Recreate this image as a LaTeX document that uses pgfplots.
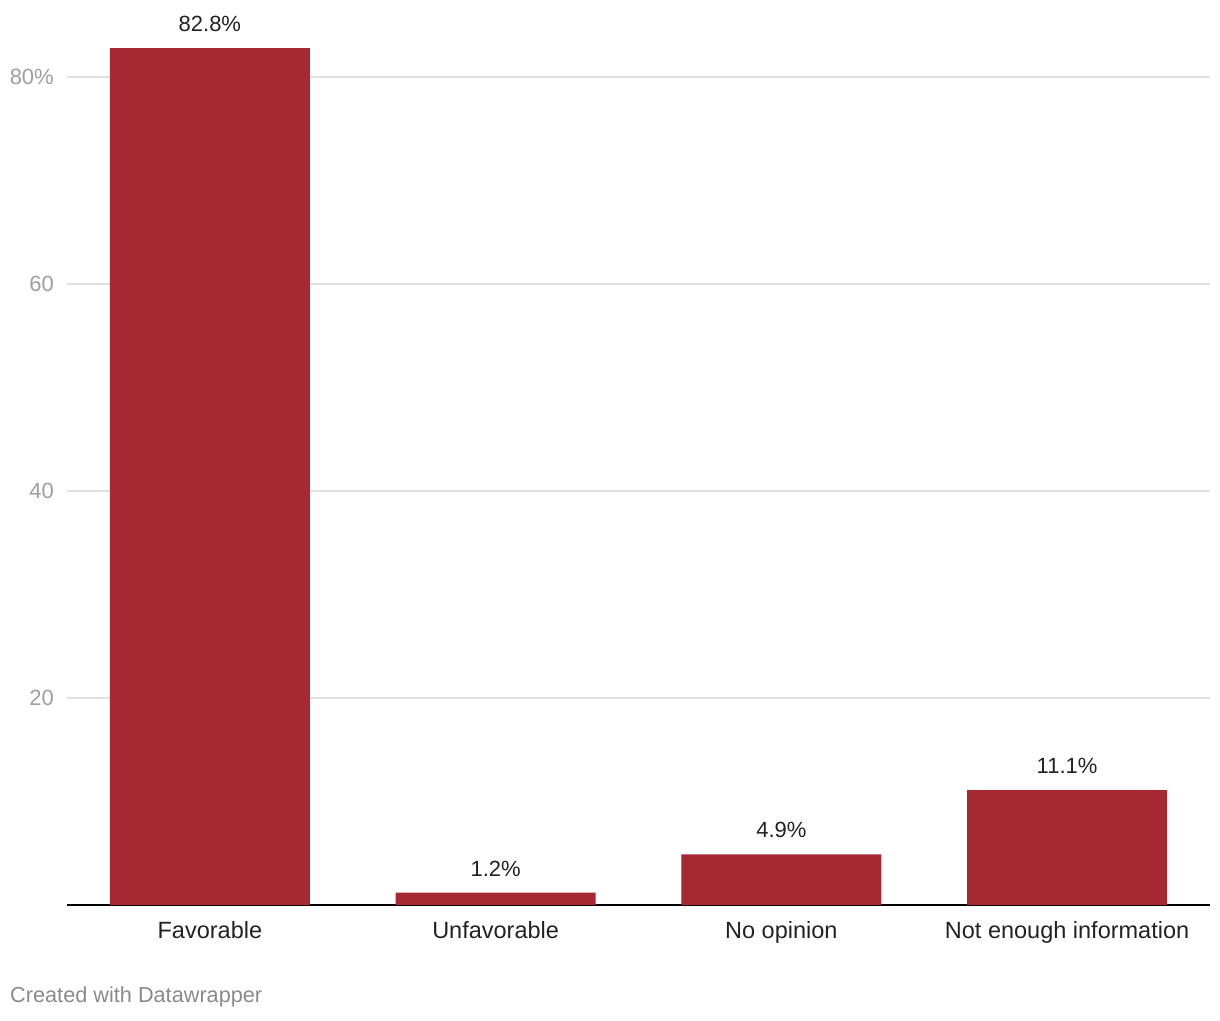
\documentclass[border=0pt]{standalone}
\usepackage{pgfplots}
\pgfplotsset{compat=1.18}
\usepackage{fontspec}
\setmainfont{Liberation Sans}
\definecolor{barred}{HTML}{A62833}
\definecolor{gridgray}{HTML}{E0E0E0}
\definecolor{ticktext}{HTML}{9E9E9E}
\definecolor{credit}{HTML}{8A8A8A}
\definecolor{labeltext}{HTML}{222222}
\begin{document}
\begin{tikzpicture}[x=1pt,y=1pt]
\useasboundingbox (-67,-115) rectangle (1153,905);
\begin{axis}[
  at={(0,0)}, anchor=south west,
  scale only axis,
  width=1143pt, height=879.75pt,
  xmin=-0.5, xmax=3.5,
  ymin=0, ymax=85,
  axis x line*=bottom,
  axis y line=none,
  x axis line style={black, line width=1.5pt},
  xtick={0,1,2,3},
  xticklabels={Favorable,Unfavorable,No opinion,Not enough information},
  major tick length=0pt,
  xticklabel style={font=\fontsize{23.5}{27}\selectfont, text=labeltext, anchor=base, yshift=-33pt},
  ybar,
  bar width=200pt,
  clip=false,
  /pgf/number format/assume math mode=true,
  nodes near coords={\pgfmathprintnumber[fixed,precision=1,fixed zerofill]{\pgfplotspointmeta}\%},
  nodes near coords style={font=\fontsize{22}{26}\selectfont, text=labeltext, anchor=center, yshift=24pt},
]
\foreach \v/\l in {20/20,40/40,60/60,80/80\%} {
  \edef\temp{\noexpand\draw[gridgray, line width=1.2pt] (axis cs:-0.5,\v) -- (axis cs:3.5,\v);
  \noexpand\node[anchor=east, text=ticktext, font=\noexpand\fontsize{22}{26}\noexpand\selectfont, inner sep=0pt] at ([xshift=-13pt]axis cs:-0.5,\v) {\l};}
  \temp
}
\addplot[fill=barred, draw=none] coordinates {(0,82.8) (1,1.2) (2,4.9) (3,11.1)};
\end{axis}
\node[anchor=west, text=credit, font=\fontsize{21.7}{25}\selectfont, inner sep=0pt] at (-57,-92) {Created with Datawrapper};
\end{tikzpicture}
\end{document}
